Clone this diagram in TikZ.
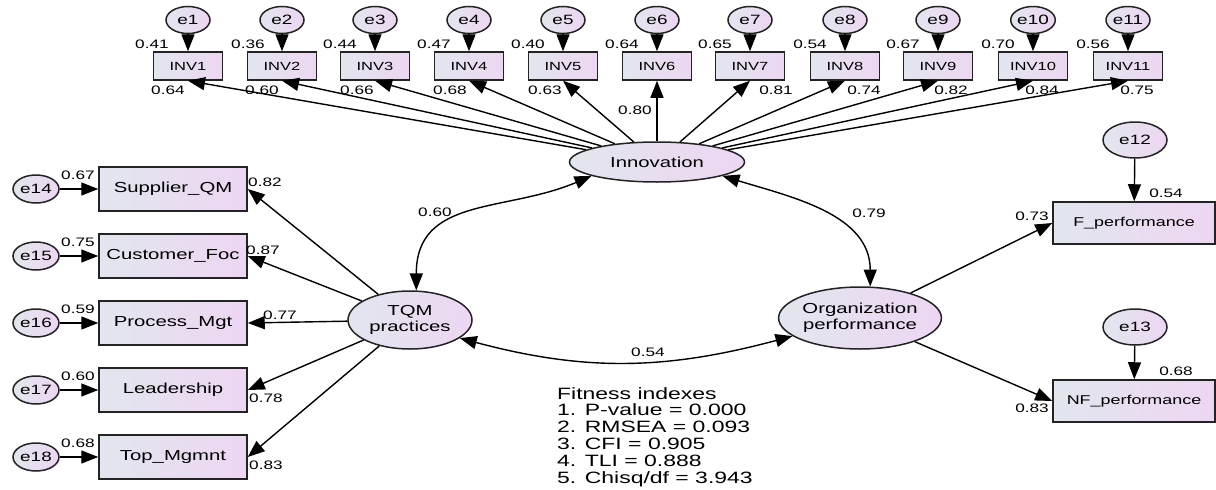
\documentclass[tikz,border=0pt]{standalone}
\usepackage{fontspec}
\setmainfont{Liberation Sans}[FakeStretch=1.4]
\usepackage{tikz}
\usetikzlibrary{arrows.meta,shapes.geometric,positioning}

\definecolor{semleft}{RGB}{226,230,238}
\definecolor{semright}{RGB}{237,214,242}
\definecolor{semline}{RGB}{35,35,35}

\begin{document}
\begin{tikzpicture}[
    x=1pt, y=1pt,
    >={Triangle[length=17pt,width=13pt]},
    obs/.style={
        draw=semline,
        line width=1.5pt,
        left color=semleft,
        right color=semright,
        inner sep=0pt
    },
    inv/.style={
        obs,
        minimum width=69pt,
        minimum height=28pt,
        font=\fontsize{11.8}{13}\selectfont
    },
    ind/.style={
        obs,
        minimum width=148pt,
        minimum height=44pt,
        font=\fontsize{14.5}{16}\selectfont
    },
    perf/.style={
        obs,
        minimum width=162pt,
        minimum height=42pt,
        font=\fontsize{12.8}{14}\selectfont
    },
    lat/.style={
        obs,
        ellipse,
        align=center,
        font=\fontsize{14.5}{16}\selectfont
    },
    err/.style={
        obs,
        ellipse,
        minimum width=44pt,
        minimum height=27pt,
        font=\fontsize{13.5}{14}\selectfont
    },
    bigerr/.style={
        err,
        minimum width=64pt,
        minimum height=36pt
    },
    arr/.style={->, line width=1.4pt},
    cov/.style={<->, line width=1.4pt},
    lbl/.style={inner sep=0pt, font=\fontsize{12.3}{13}\selectfont}
]
\useasboundingbox (0,0) rectangle (1216,-490);

% latent variables
\node[lat, minimum width=175pt, minimum height=40pt] (innov) at (657,-162) {Innovation};
\node[lat, minimum width=124pt, minimum height=58pt] (tqm) at (410,-320) {TQM\\practices};
\node[lat, minimum width=155pt, minimum height=62pt] (org) at (860,-318) {Organization\\performance};

% innovation indicators
\node[inv] (inv1) at (188,-66) {INV1};
\node[inv] (inv2) at (282,-66) {INV2};
\node[inv] (inv3) at (375,-66) {INV3};
\node[inv] (inv4) at (469,-66) {INV4};
\node[inv] (inv5) at (563,-66) {INV5};
\node[inv] (inv6) at (657,-66) {INV6};
\node[inv] (inv7) at (750,-66) {INV7};
\node[inv] (inv8) at (845,-66) {INV8};
\node[inv] (inv9) at (938,-66) {INV9};
\node[inv] (inv10) at (1033,-66) {INV10};
\node[inv] (inv11) at (1128,-66) {INV11};

\node[err] (e1) at (188,-20) {e1};
\node[err] (e2) at (282,-20) {e2};
\node[err] (e3) at (375,-20) {e3};
\node[err] (e4) at (469,-20) {e4};
\node[err] (e5) at (563,-20) {e5};
\node[err] (e6) at (657,-20) {e6};
\node[err] (e7) at (750,-20) {e7};
\node[err] (e8) at (845,-20) {e8};
\node[err] (e9) at (938,-20) {e9};
\node[err] (e10) at (1033,-20) {e10};
\node[err] (e11) at (1128,-20) {e11};

\draw[arr] (e1) -- (inv1);
\draw[arr] (e2) -- (inv2);
\draw[arr] (e3) -- (inv3);
\draw[arr] (e4) -- (inv4);
\draw[arr] (e5) -- (inv5);
\draw[arr] (e6) -- (inv6);
\draw[arr] (e7) -- (inv7);
\draw[arr] (e8) -- (inv8);
\draw[arr] (e9) -- (inv9);
\draw[arr] (e10) -- (inv10);
\draw[arr] (e11) -- (inv11);

\node[lbl] (r1) at (152,-44) {0.41};
\node[lbl] (r2) at (248,-44) {0.36};
\node[lbl] (r3) at (340,-44) {0.44};
\node[lbl] (r4) at (434,-44) {0.47};
\node[lbl] (r5) at (528,-44) {0.40};
\node[lbl] (r6) at (622,-44) {0.64};
\node[lbl] (r7) at (715,-44) {0.65};
\node[lbl] (r8) at (810,-44) {0.54};
\node[lbl] (r9) at (903,-44) {0.67};
\node[lbl] (r10) at (998,-44) {0.70};
\node[lbl] (r11) at (1093,-44) {0.56};

\draw[arr] (innov) -- (inv1.south);
\draw[arr] (innov) -- (inv2.south);
\draw[arr] (innov) -- (inv3.south);
\draw[arr] (innov) -- (inv4.south);
\draw[arr] (innov) -- (inv5.south);
\draw[arr] (innov) -- (inv6.south);
\draw[arr] (innov) -- (inv7.south);
\draw[arr] (innov) -- (inv8.south);
\draw[arr] (innov) -- (inv9.south);
\draw[arr] (innov) -- (inv10.south);
\draw[arr] (innov) -- (inv11.south);

\node[lbl] (l1) at (168,-90) {0.64};
\node[lbl] (l2) at (262,-90) {0.60};
\node[lbl] (l3) at (357,-90) {0.66};
\node[lbl] (l4) at (450,-90) {0.68};
\node[lbl] (l5) at (545,-90) {0.63};
\node[lbl] (l6) at (635,-110) {0.80};
\node[lbl] (l7) at (776,-90) {0.81};
\node[lbl] (l8) at (864,-90) {0.74};
\node[lbl] (l9) at (951,-90) {0.82};
\node[lbl] (l10) at (1042,-90) {0.84};
\node[lbl] (l11) at (1137,-90) {0.75};

% TQM indicators
\node[ind] (sqm) at (173,-189) {Supplier\_QM};
\node[ind] (cfoc) at (173,-256) {Customer\_Foc};
\node[ind] (pmgt) at (173,-323) {Process\_Mgt};
\node[ind] (lead) at (173,-390) {Leadership};
\node[ind] (topm) at (173,-457) {Top\_Mgmnt};

\node[err, minimum width=46pt, minimum height=28pt] (e14) at (36,-189) {e14};
\node[err, minimum width=46pt, minimum height=28pt] (e15) at (36,-256) {e15};
\node[err, minimum width=46pt, minimum height=28pt] (e16) at (36,-323) {e16};
\node[err, minimum width=46pt, minimum height=28pt] (e17) at (36,-390) {e17};
\node[err, minimum width=46pt, minimum height=28pt] (e18) at (36,-457) {e18};

\draw[arr] (e14) -- (sqm);
\draw[arr] (e15) -- (cfoc);
\draw[arr] (e16) -- (pmgt);
\draw[arr] (e17) -- (lead);
\draw[arr] (e18) -- (topm);

\node[lbl] (r14) at (78,-175) {0.67};
\node[lbl] (r15) at (78,-242) {0.75};
\node[lbl] (r16) at (78,-309) {0.59};
\node[lbl] (r17) at (78,-376) {0.60};
\node[lbl] (r18) at (78,-443) {0.68};

\draw[arr] (tqm) -- (sqm.east);
\draw[arr] (tqm) -- (cfoc.east);
\draw[arr] (tqm) -- (pmgt.east);
\draw[arr] (tqm) -- (lead.east);
\draw[arr] (tqm) -- (topm.east);

\node[lbl] (l14) at (265,-182) {0.82};
\node[lbl] (l15) at (263,-250) {0.87};
\node[lbl] (l16) at (280,-315) {0.77};
\node[lbl] (l17) at (266,-398) {0.78};
\node[lbl] (l18) at (266,-465) {0.83};

% performance indicators
\node[perf] (fperf) at (1134,-223) {F\_performance};
\node[perf] (nfperf) at (1134,-401) {NF\_performance};
\node[bigerr] (e12) at (1135,-140) {e12};
\node[bigerr] (e13) at (1135,-327) {e13};

\draw[arr] (e12) -- (fperf);
\draw[arr] (e13) -- (nfperf);
\draw[arr] (org) -- (fperf.west);
\draw[arr] (org) -- (nfperf.west);

\node[lbl] (r12) at (1166,-193) {0.54};
\node[lbl] (r13) at (1176,-371) {0.68};
\node[lbl] (l12) at (1032,-216) {0.73};
\node[lbl] (l13) at (1032,-408) {0.83};

% correlations
\draw[cov] (innov.192) to[out=203, in=90, looseness=1.15] (tqm.78);
\draw[cov] (innov.-12) to[out=-17, in=90] (org.72);
\draw[cov] (tqm.-20) to[out=-15, in=195] (org.195);

\node[lbl] (c1) at (435,-212) {0.60};
\node[lbl] (c2) at (869,-213) {0.79};
\node[lbl] (c3) at (648,-352) {0.54};

% fit statistics
\node[anchor=north west, align=left, inner sep=0pt,
      font=\fontsize{16.4}{16.8}\selectfont] (fitidx) at (557,-387)
    {Fitness indexes\\1. P-value = 0.000\\2. RMSEA = 0.093\\3. CFI = 0.905\\4. TLI = 0.888\\5. Chisq/df = 3.943};

\end{tikzpicture}
\end{document}
